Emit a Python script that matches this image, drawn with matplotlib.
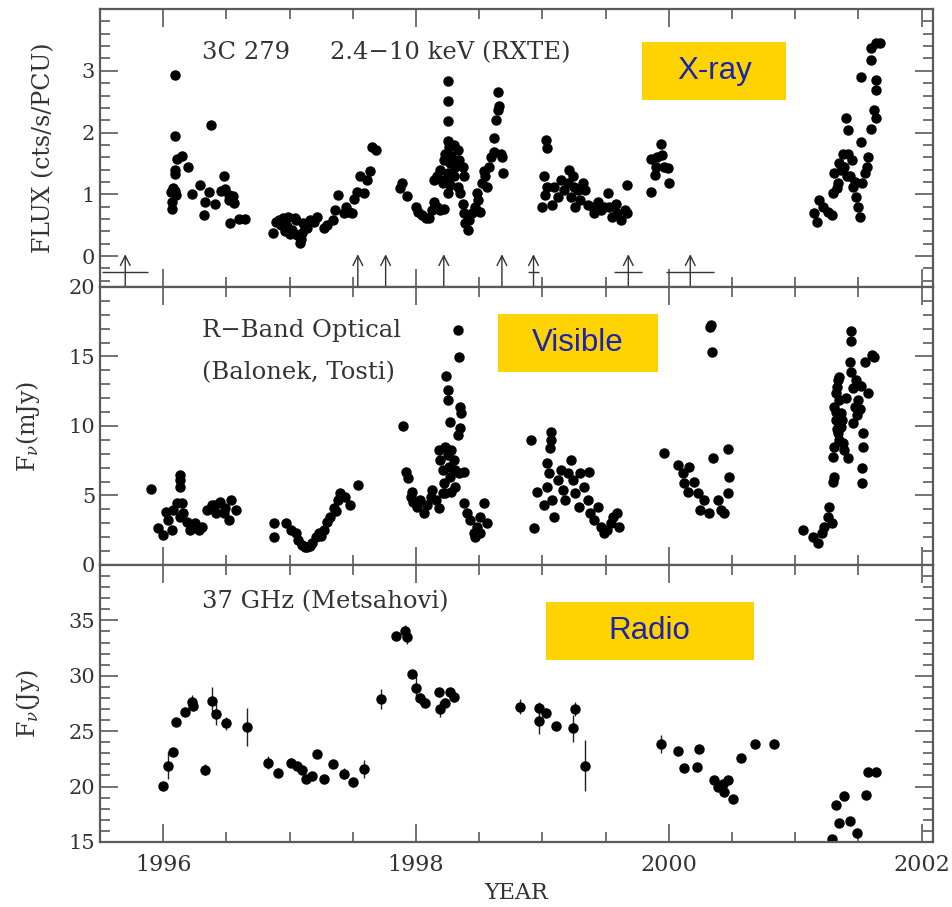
import matplotlib
matplotlib.use("Agg")
import matplotlib.pyplot as plt
from matplotlib.patches import Rectangle
from matplotlib.ticker import MultipleLocator, FixedLocator, FuncFormatter

# ---- X-ray (RXTE 2.4-10 keV) ----
xray_year = [1996.095, 1996.095, 1996.11, 1996.15, 1996.20, 1996.095, 1996.09, 1996.06, 1996.09, 1996.10,
             1996.07, 1996.07, 1996.08, 1996.29, 1996.23, 1996.38, 1996.36, 1996.33, 1996.32, 1996.41,
             1996.48, 1996.46, 1996.49, 1996.52, 1996.52, 1996.56, 1996.55, 1996.53, 1996.60, 1996.65,
             1996.87, 1996.89, 1996.93, 1996.95, 1996.98, 1996.99, 1997.02, 1997.05, 1997.06, 1997.08,
             1997.10, 1997.11, 1997.14, 1997.16, 1996.96, 1997.00, 1997.04, 1997.09, 1997.12, 1996.92,
             1997.19, 1997.22, 1997.27, 1997.30, 1997.34, 1997.36, 1997.38, 1997.43, 1997.47, 1997.49,
             1997.45, 1997.51, 1997.53, 1997.59, 1997.56, 1997.61, 1997.64, 1997.65, 1997.68,
             1997.89, 1997.87, 1997.93, 1998.00, 1998.02, 1998.05, 1998.08, 1998.10, 1998.13, 1998.14,
             1998.17, 1998.19, 1998.22, 1998.14, 1998.25, 1998.25, 1998.25, 1998.25, 1998.26, 1998.30,
             1998.33, 1998.23, 1998.22, 1998.27, 1998.34, 1998.37, 1998.19, 1998.25, 1998.30, 1998.38,
             1998.17, 1998.21, 1998.27, 1998.33, 1998.25, 1998.31, 1998.28, 1998.24, 1998.35, 1998.37,
             1998.38, 1998.39, 1998.41, 1998.42, 1998.44, 1998.47, 1998.49, 1998.48, 1998.51, 1998.52,
             1998.55, 1998.54, 1998.58, 1998.59, 1998.56, 1998.62, 1998.62, 1998.63, 1998.65, 1998.66,
             1998.65, 1998.67, 1998.68, 1998.69,
             1999.03, 1999.04, 1999.01, 1999.04, 1999.02, 1999.00, 1999.09, 1999.12, 1999.08, 1999.15,
             1999.17, 1999.21, 1999.20, 1999.24, 1999.25, 1999.23, 1999.28, 1999.26, 1999.32, 1999.34,
             1999.30, 1999.36, 1999.40, 1999.41, 1999.44, 1999.46, 1999.49, 1999.52, 1999.53, 1999.55,
             1999.58, 1999.59, 1999.62, 1999.65, 1999.67, 1999.67,
             1999.94, 1999.86, 1999.91, 1999.95, 1999.90, 1999.96, 1999.99, 1999.89, 2000.00, 1999.86,
             2001.17, 2001.15, 2001.19, 2001.22, 2001.26, 2001.29, 2001.30, 2001.31, 2001.34, 2001.35,
             2001.38, 2001.42, 2001.39, 2001.43, 2001.46, 2001.48, 2001.50, 2001.51, 2001.53, 2001.57,
             2001.58, 2001.52, 2001.40, 2001.42, 2001.60, 2001.64, 2001.62, 2001.64, 2001.64, 2001.52,
             2001.60, 2001.60, 2001.64, 2001.67, 2001.33, 2001.36, 2001.41, 2001.45, 2001.47, 2001.55]
xray_flux = [2.93, 1.94, 1.58, 1.62, 1.45, 1.40, 1.33, 1.04, 1.05, 0.99,
             0.88, 0.77, 1.10, 1.15, 1.00, 2.12, 1.03, 0.87, 0.66, 0.85,
             1.29, 1.05, 1.08, 0.99, 0.91, 0.86, 0.97, 0.53, 0.60, 0.60,
             0.38, 0.56, 0.50, 0.61, 0.48, 0.64, 0.42, 0.58, 0.34, 0.21,
             0.37, 0.53, 0.45, 0.58, 0.40, 0.35, 0.62, 0.28, 0.46, 0.58,
             0.56, 0.64, 0.45, 0.50, 0.58, 0.75, 0.99, 0.69, 0.72, 0.69,
             0.80, 0.93, 1.04, 1.02, 1.29, 1.23, 1.37, 1.77, 1.71,
             1.18, 1.10, 0.97, 0.80, 0.72, 0.66, 0.61, 0.61, 0.75, 0.88,
             0.80, 0.75, 0.77, 1.23, 2.83, 2.51, 2.19, 1.87, 1.77, 1.80,
             1.72, 1.66, 1.56, 1.50, 1.56, 1.45, 1.39, 1.34, 1.29, 1.29,
             1.29, 1.18, 1.15, 1.12, 1.02, 1.45, 1.62, 1.25, 1.02, 0.85,
             0.69, 0.53, 0.42, 0.58, 0.69, 0.80, 0.91, 1.02, 0.72, 1.18,
             1.29, 1.37, 1.45, 1.61, 1.12, 1.69, 1.91, 2.20, 2.37, 2.43,
             2.66, 1.66, 1.61, 1.34,
             1.88, 1.75, 1.29, 1.12, 0.99, 0.80, 1.12, 0.96, 0.83, 1.23,
             1.07, 1.39, 1.18, 1.29, 1.12, 0.96, 1.07, 0.80, 1.18, 1.07,
             0.91, 0.83, 0.80, 0.69, 0.88, 0.75, 0.80, 1.02, 0.80, 0.64,
             0.85, 0.69, 0.58, 0.75, 0.69, 1.15,
             1.82, 1.58, 1.61, 1.64, 1.45, 1.45, 1.42, 1.31, 1.19, 1.03,
             0.56, 0.69, 0.91, 0.80, 0.72, 0.66, 1.02, 1.34, 1.18, 1.50,
             1.66, 1.66, 1.45, 1.29, 1.12, 0.96, 0.80, 0.64, 1.18, 1.45,
             1.61, 1.85, 2.23, 2.04, 2.05, 2.23, 2.37, 2.69, 2.85, 2.90,
             3.18, 3.37, 3.45, 3.45, 1.10, 1.40, 1.30, 1.55, 1.20, 1.35]

# times of the arrows at the bottom of the X-ray panel, and their horizontal bars
arrow_year = [1995.70, 1997.54, 1997.76, 1998.22, 1998.68, 1998.93, 1999.68, 2000.17]
bar_start = [1995.52, 1998.89, 1999.57, 1999.98]
bar_end = [1995.88, 1998.97, 1999.79, 2000.36]

# ---- optical R band ----
opt_year = [1995.90, 1995.96, 1996.00, 1996.02, 1996.04, 1996.07, 1996.08, 1996.11, 1996.13, 1996.13,
            1996.13, 1996.15, 1996.13, 1996.16, 1996.19, 1996.21, 1996.25, 1996.28, 1996.31, 1996.35,
            1996.39, 1996.42, 1996.45, 1996.49, 1996.52, 1996.54, 1996.58, 1996.48, 1996.41, 1996.23,
            1996.88, 1996.88, 1996.97, 1997.01, 1997.05, 1997.07, 1997.10, 1997.14, 1997.18, 1997.21,
            1997.23, 1997.27, 1997.30, 1997.32, 1997.35, 1997.38, 1997.40, 1997.44, 1997.48, 1997.54,
            1997.12, 1997.16, 1997.25, 1997.37,
            1997.90, 1997.92, 1997.94, 1997.96, 1997.98, 1997.97, 1998.01, 1998.03, 1998.06, 1998.09,
            1998.12, 1998.13, 1998.16, 1998.18, 1998.21, 1998.18, 1998.19, 1998.21, 1998.23, 1998.25,
            1998.26, 1998.27, 1998.28, 1998.30, 1998.31, 1998.31, 1998.28, 1998.23, 1998.22, 1998.34,
            1998.33, 1998.34, 1998.24, 1998.25, 1998.25, 1998.27, 1998.35, 1998.36, 1998.35, 1998.33,
            1998.38, 1998.38, 1998.40, 1998.43, 1998.46, 1998.48, 1998.51, 1998.54, 1998.56, 1998.51,
            1998.47,
            1998.91, 1998.93, 1999.07, 1999.07, 1999.06, 1998.96, 1999.01, 1999.04, 1999.05, 1999.04,
            1999.08, 1999.09, 1999.12, 1999.15, 1999.16, 1999.18, 1999.20, 1999.23, 1999.24, 1999.26,
            1999.29, 1999.30, 1999.33, 1999.36, 1999.37, 1999.38, 1999.41, 1999.44, 1999.46, 1999.49,
            1999.51, 1999.54, 1999.56, 1999.59, 1999.61,
            1999.96, 2000.07, 2000.11, 2000.16, 2000.12, 2000.15, 2000.20, 2000.23, 2000.25, 2000.28,
            2000.32, 2000.35, 2000.39, 2000.41, 2000.44, 2000.47, 2000.48, 2000.47, 2000.33, 2000.34,
            2000.335,
            2001.06, 2001.14, 2001.18, 2001.21, 2001.23, 2001.26, 2001.27, 2001.29, 2001.30, 2001.31,
            2001.30, 2001.31, 2001.32, 2001.31, 2001.32, 2001.34, 2001.35, 2001.35, 2001.36, 2001.34,
            2001.38, 2001.39, 2001.42, 2001.36, 2001.44, 2001.44, 2001.43, 2001.44, 2001.46, 2001.48,
            2001.50, 2001.47, 2001.51, 2001.46, 2001.54, 2001.54, 2001.53, 2001.53, 2001.55, 2001.61,
            2001.58, 2001.62, 2001.33, 2001.32, 2001.33, 2001.37, 2001.35, 2001.40, 2001.49, 2001.52]
opt_flux = [5.47, 2.64, 2.16, 3.83, 3.24, 2.52, 3.96, 4.44, 6.47, 6.12,
            5.63, 4.44, 3.47, 3.72, 3.12, 2.52, 3.00, 2.52, 2.76, 3.96,
            4.32, 3.72, 4.55, 4.08, 3.24, 4.68, 3.96, 3.72, 4.32, 2.70,
            3.04, 1.99, 3.00, 2.52, 2.28, 1.80, 1.44, 1.32, 1.56, 2.04,
            2.28, 2.52, 3.12, 3.48, 4.08, 4.68, 5.16, 4.92, 4.32, 5.76,
            1.30, 1.40, 2.10, 3.90,
            10.0, 6.71, 6.24, 4.91, 4.55, 5.27, 4.19, 4.68, 3.72, 4.32,
            4.91, 5.40, 4.68, 4.08, 5.16, 8.27, 7.55, 6.83, 8.51, 7.91,
            7.07, 6.35, 8.27, 7.55, 6.83, 5.63, 5.27, 5.16, 5.88, 6.59,
            16.9, 14.98, 13.6, 12.59, 11.87, 10.31, 11.39, 10.91, 9.83, 9.35,
            6.71, 4.44, 3.72, 3.24, 2.28, 2.76, 3.48, 4.44, 3.00, 2.28,
            2.04,
            8.99, 2.69, 9.59, 8.99, 8.39, 5.27, 4.32, 7.32, 6.59, 5.63,
            4.68, 3.48, 6.12, 6.83, 5.40, 4.68, 6.59, 7.55, 6.12, 5.16,
            4.19, 6.59, 5.63, 4.68, 6.71, 3.72, 3.24, 4.19, 2.76, 2.28,
            2.52, 3.00, 3.48, 3.72, 2.76,
            8.08, 7.19, 6.59, 7.07, 5.88, 5.27, 5.99, 5.16, 3.96, 4.68,
            3.72, 7.68, 4.68, 3.96, 3.72, 5.16, 6.35, 8.32, 17.14, 15.35,
            17.3,
            2.52, 2.04, 1.56, 2.28, 2.76, 3.48, 4.19, 3.00, 5.99, 6.35,
            7.79, 8.51, 10.43, 11.39, 12.35, 13.31, 13.55, 11.87, 10.91, 9.47,
            8.75, 8.27, 7.67, 9.95, 16.8, 16.1, 14.6, 13.9, 12.7, 13.3,
            11.9, 11.4, 11.2, 10.2, 9.47, 8.51, 6.95, 5.88, 14.6, 15.1,
            12.35, 14.98, 9.8, 11.0, 12.8, 10.4, 9.0, 12.0, 10.8, 12.9]

# ---- radio 37 GHz ----
radio_year = [1996.00, 1996.04, 1996.08, 1996.10, 1996.17, 1996.23, 1996.24, 1996.33, 1996.39, 1996.42,
              1996.50, 1996.66, 1996.83, 1996.91, 1997.01, 1997.06, 1997.10, 1997.13, 1997.18, 1997.22,
              1997.27, 1997.34, 1997.43, 1997.50, 1997.59, 1997.72, 1997.84, 1997.91, 1997.93, 1997.97,
              1998.00, 1998.03, 1998.07, 1998.18, 1998.19, 1998.23, 1998.27, 1998.30,
              1998.82, 1998.97, 1998.97, 1999.03, 1999.11, 1999.26, 1999.24, 1999.34,
              1999.94, 2000.07, 2000.12, 2000.22, 2000.24, 2000.36, 2000.39, 2000.43, 2000.47, 2000.44,
              2000.51, 2000.57, 2000.68, 2000.83,
              2001.29, 2001.32, 2001.35, 2001.39, 2001.43, 2001.49, 2001.56, 2001.58, 2001.64]
radio_flux = [20.05, 21.9, 23.1, 25.86, 26.76, 27.66, 27.3, 21.5, 27.75, 26.55,
              25.7, 25.35, 22.16, 21.25, 22.16, 21.86, 21.5, 20.66, 20.96, 22.94,
              20.66, 22.04, 21.14, 20.39, 21.56, 27.9, 33.62, 34.04, 33.53, 30.2,
              28.93, 27.97, 27.57, 28.5, 26.98, 27.57, 28.5, 28.06,
              27.21, 27.07, 25.92, 26.67, 25.47, 27.0, 25.26, 21.89,
              23.84, 23.24, 21.65, 21.8, 23.39, 20.6, 19.99, 20.24, 20.6, 19.54,
              18.85, 22.55, 23.82, 23.82,
              15.24, 18.34, 16.69, 19.15, 16.91, 15.78, 19.21, 21.29, 21.34]
radio_err = [0.3, 1.2, 0.3, 0.3, 0.4, 0.6, 0.4, 0.5, 1.2, 1.0,
             0.6, 1.7, 0.6, 0.4, 0.4, 0.4, 0.4, 0.3, 0.3, 0.4,
             0.3, 0.3, 0.5, 0.4, 0.8, 0.9, 0.3, 0.5, 0.7, 0.3,
             1.2, 0.5, 0.4, 0.4, 0.7, 0.4, 0.4, 0.4,
             0.7, 0.6, 1.2, 0.4, 0.3, 0.6, 1.2, 2.3,
             0.8, 0.3, 0.3, 0.3, 0.3, 0.3, 0.3, 0.3, 0.3, 0.3,
             0.3, 0.3, 0.3, 0.3,
             0.3, 0.3, 0.3, 0.3, 0.3, 0.3, 0.3, 0.3, 0.3]

plt.rcParams['font.family'] = ['DejaVu Serif']
plt.rcParams['mathtext.fontset'] = 'dejavuserif'

ink = '#333333'
frame = '#5a5a5a'
box_fill = '#FFD300'
box_text = '#1a24b0'
msize = 6.5

fig = plt.figure(figsize=(9.52, 9.07), dpi=100)
L, W = 0.105, 0.875
ax1 = fig.add_axes([L, 0.6836, W, 0.3064])
ax2 = fig.add_axes([L, 0.3771, W, 0.3065])
ax3 = fig.add_axes([L, 0.0717, W, 0.3054])

for ax in (ax1, ax2, ax3):
    ax.set_xlim(1995.5, 2002.09)
    ax.xaxis.set_major_locator(MultipleLocator(2))
    ax.xaxis.set_minor_locator(MultipleLocator(0.5))
    ax.tick_params(which='both', direction='in', top=True, right=True,
                   color=frame, labelcolor=ink, width=1.2)
    ax.tick_params(which='major', length=13)
    ax.tick_params(which='minor', length=7)
    ax.tick_params(axis='y', labelsize=15)
    ax.tick_params(axis='x', labelsize=16, pad=9)
    for s in ax.spines.values():
        s.set_color(frame)
        s.set_linewidth(1.6)

ax1.tick_params(labelbottom=False)
ax2.tick_params(labelbottom=False)
ax3.xaxis.set_major_formatter(FuncFormatter(lambda v, p: '%d' % round(v)))

# X-ray panel
ax1.plot(xray_year, xray_flux, 'o', color='black', markersize=msize, mec='black')
ax1.set_ylim(-0.5, 4.0)
ax1.yaxis.set_major_locator(FixedLocator([0, 1, 2, 3]))
ax1.yaxis.set_minor_locator(MultipleLocator(0.2))
ax1.set_ylabel('FLUX (cts/s/PCU)', fontsize=17, color=ink)
ax1.yaxis.set_label_coords(-0.054, 0.5)
for x in arrow_year:
    ax1.annotate('', xy=(x, 0.03), xytext=(x, -0.5),
                 arrowprops=dict(arrowstyle='->,head_length=0.7,head_width=0.35',
                                 color=ink, lw=1.0, shrinkA=0, shrinkB=0))
ax1.hlines([-0.25] * len(bar_start), bar_start, bar_end, color=ink, lw=1.0)
ax1.text(0.1225, 0.842, '3C 279', transform=ax1.transAxes,
         fontsize=17.5, color=ink, va='center', ha='left')
ax1.text(0.276, 0.842, '2.4\u221210 keV (RXTE)', transform=ax1.transAxes,
         fontsize=17.5, color=ink, va='center', ha='left')

# optical panel
ax2.plot(opt_year, opt_flux, 'o', color='black', markersize=msize, mec='black')
ax2.set_ylim(0, 20)
ax2.yaxis.set_major_locator(MultipleLocator(5))
ax2.yaxis.set_minor_locator(MultipleLocator(1))
ax2.set_ylabel(r'F$_\nu$(mJy)', fontsize=17, color=ink)
ax2.yaxis.set_label_coords(-0.07, 0.5)
ax2.text(0.1225, 0.845, 'R\u2212Band Optical', transform=ax2.transAxes,
         fontsize=17.5, color=ink, va='center', ha='left')
ax2.text(0.1225, 0.691, '(Balonek, Tosti)', transform=ax2.transAxes,
         fontsize=17.5, color=ink, va='center', ha='left')

# radio panel
ax3.errorbar(radio_year, radio_flux, yerr=radio_err, fmt='o', color='black',
             markersize=msize, ecolor='#222222', elinewidth=1.0, capsize=0)
ax3.set_ylim(15, 40)
ax3.yaxis.set_major_locator(FixedLocator([15, 20, 25, 30, 35]))
ax3.yaxis.set_minor_locator(MultipleLocator(1))
ax3.set_ylabel(r'F$_\nu$(Jy)', fontsize=17, color=ink)
ax3.yaxis.set_label_coords(-0.07, 0.5)
ax3.set_xlabel('YEAR', fontsize=16, color=ink, labelpad=4)
ax3.text(0.1225, 0.866, '37 GHz (Metsahovi)', transform=ax3.transAxes,
         fontsize=17.5, color=ink, va='center', ha='left')

# yellow band labels
for ax, (x0, y0, w, h), label in [
        (ax1, (0.651, 0.673, 0.173, 0.209), 'X-ray'),
        (ax2, (0.478, 0.694, 0.192, 0.209), 'Visible'),
        (ax3, (0.535, 0.657, 0.250, 0.209), 'Radio')]:
    ax.add_patch(Rectangle((x0, y0), w, h, transform=ax.transAxes,
                           facecolor=box_fill, edgecolor='none', zorder=5))
    ax.text(x0 + w / 2, y0 + h / 2, label, transform=ax.transAxes,
            family='Liberation Sans', fontsize=22.5, color=box_text,
            ha='center', va='center', zorder=6)

fig.savefig('out.png', dpi=100)
